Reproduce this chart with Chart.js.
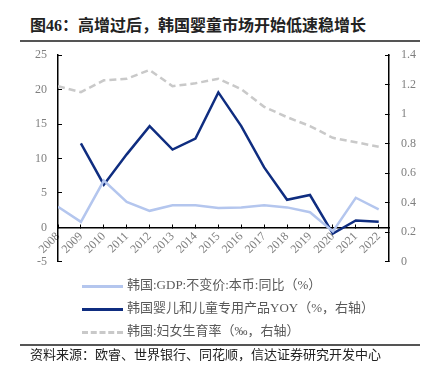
<!DOCTYPE html>
<html>
<head>
<meta charset="utf-8">
<script src="https://cdn.jsdelivr.net/npm/chart.js@4"></script>
<style>
  body { margin: 0; background: #fff; }
  #wrap { position: relative; width: 432px; height: 381px; overflow: hidden;
          font-family: "Liberation Serif", "Noto Sans CJK SC", serif; }
  #title { position: absolute; left: 30px; top: 12px; font-size: 16px; font-weight: bold; color: #222; white-space: nowrap; }
  .rule { position: absolute; left: 20px; width: 400px; background: #555; }
  #chartBox { position: absolute; left: 0; top: 32px; }
  .leg { position: absolute; left: 82px; font-size: 13px; color: #595959; white-space: nowrap; height: 16px; line-height: 16px; }
  .leg span.ln { display: inline-block; width: 41px; vertical-align: middle; margin-right: 4px; }
  #source { position: absolute; left: 30px; top: 344px; font-size: 13px; color: #222; white-space: nowrap; }
</style>
</head>
<body>
<div id="wrap">
  <div id="title">图46：高增过后，韩国婴童市场开始低速稳增长</div>
  <div class="rule" style="top:40px;height:2px;"></div>
  <div id="chartBox"><canvas id="myChart" width="432" height="253"></canvas></div>
  <div id="legend"></div>
  <div class="rule" style="top:344px;height:1.5px;"></div>
  <div id="source">资料来源：欧睿、世界银行、同花顺，信达证券研究开发中心</div>
</div>
<script>
var years = [2008, 2009, 2010, 2011, 2012, 2013, 2014, 2015, 2016, 2017, 2018, 2019, 2020, 2021, 2022];
var gdpYoy = [3.0, 0.8, 6.8, 3.7, 2.4, 3.2, 3.2, 2.8, 2.9, 3.2, 2.9, 2.2, -0.6, 4.3, 2.6];
var babyYoy = [null, 12.2, 6.2, 10.6, 14.7, 11.3, 12.9, 19.6, 14.7, 8.7, 4.0, 4.7, -0.9, 1.0, 0.8];
var fertility = [1.19, 1.15, 1.23, 1.24, 1.30, 1.19, 1.21, 1.24, 1.17, 1.05, 0.98, 0.92, 0.84, 0.81, 0.78];
var seriesNames = ['韩国:GDP:不变价:本币:同比（%）', '韩国婴儿和儿童专用产品YOY（%，右轴）', '韩国:妇女生育率（‰，右轴）'];
var seriesColors = ['#b4c6ee', '#0f2d80', '#c9c9c9'];

function pts(vals) {
  return years.map(function (y, i) { return {x: y, y: vals[i]}; });
}

var tickFont = {family: '"Liberation Serif", serif', size: 12};
var tickColor = '#7f7f7f';

var ctx = document.getElementById('myChart').getContext('2d');
var myChart = new Chart(ctx, {
  type: 'line',
  data: {
    datasets: [{
      data: pts(gdpYoy),
      label: seriesNames[0],
      borderColor: seriesColors[0],
      borderWidth: 2.5,
      yAxisID: 'y'
    }, {
      data: pts(babyYoy),
      label: seriesNames[1],
      borderColor: seriesColors[1],
      borderWidth: 2.5,
      yAxisID: 'y'
    }, {
      data: pts(fertility),
      label: seriesNames[2],
      borderColor: seriesColors[2],
      borderWidth: 2.5,
      borderDash: [7, 4],
      yAxisID: 'y1'
    }]
  },
  options: {
    responsive: false,
    animation: false,
    spanGaps: false,
    elements: { point: { radius: 0 }, line: { tension: 0 } },
    layout: { padding: { left: 33, right: 13, top: 2, bottom: 2 } },
    plugins: { legend: { display: false }, tooltip: { enabled: false } },
    scales: {
      x: {
        type: 'linear',
        position: { y: 0 },
        min: 2008,
        max: 2022.45,
        grid: { display: true, drawOnChartArea: false, tickLength: -4, color: '#000' },
        border: { color: '#000', width: 1.5 },
        afterBuildTicks: function (axis) {
          axis.ticks = axis.ticks.filter(function (t) { return Number.isInteger(t.value); });
        },
        ticks: {
          stepSize: 1,
          autoSkip: false,
          includeBounds: false,
          minRotation: 45,
          maxRotation: 45,
          padding: 6,
          color: tickColor,
          font: tickFont,
          callback: function (v) { return String(v); }
        }
      },
      y: {
        position: 'left',
        min: -5,
        max: 25,
        afterFit: function (scale) { scale.width = 25; },
        grid: { display: true, drawOnChartArea: false, tickLength: -4, color: '#000' },
        border: { color: '#000', width: 1.5 },
        ticks: { stepSize: 5, padding: 15, color: tickColor, font: tickFont }
      },
      y1: {
        position: 'right',
        min: 0,
        max: 1.4,
        afterFit: function (scale) { scale.width = 30; },
        grid: { display: true, drawOnChartArea: false, tickLength: -4, color: '#000' },
        border: { color: '#000', width: 1.5 },
        ticks: {
          stepSize: 0.2,
          padding: 16,
          color: tickColor,
          font: tickFont,
          callback: function (v) { return String(+v.toFixed(1)); }
        }
      }
    }
  }
});

// html legend, one item per row
var legTops = [277, 300, 323];
var legend = document.getElementById('legend');
myChart.data.datasets.forEach(function (ds, i) {
  var row = document.createElement('div');
  row.className = 'leg';
  row.style.top = legTops[i] + 'px';
  var ln = document.createElement('span');
  ln.className = 'ln';
  ln.style.borderTop = (ds.borderDash ? '3px dashed ' : '3px solid ') + ds.borderColor;
  row.appendChild(ln);
  row.appendChild(document.createTextNode(ds.label));
  legend.appendChild(row);
});
</script>
</body>
</html>
